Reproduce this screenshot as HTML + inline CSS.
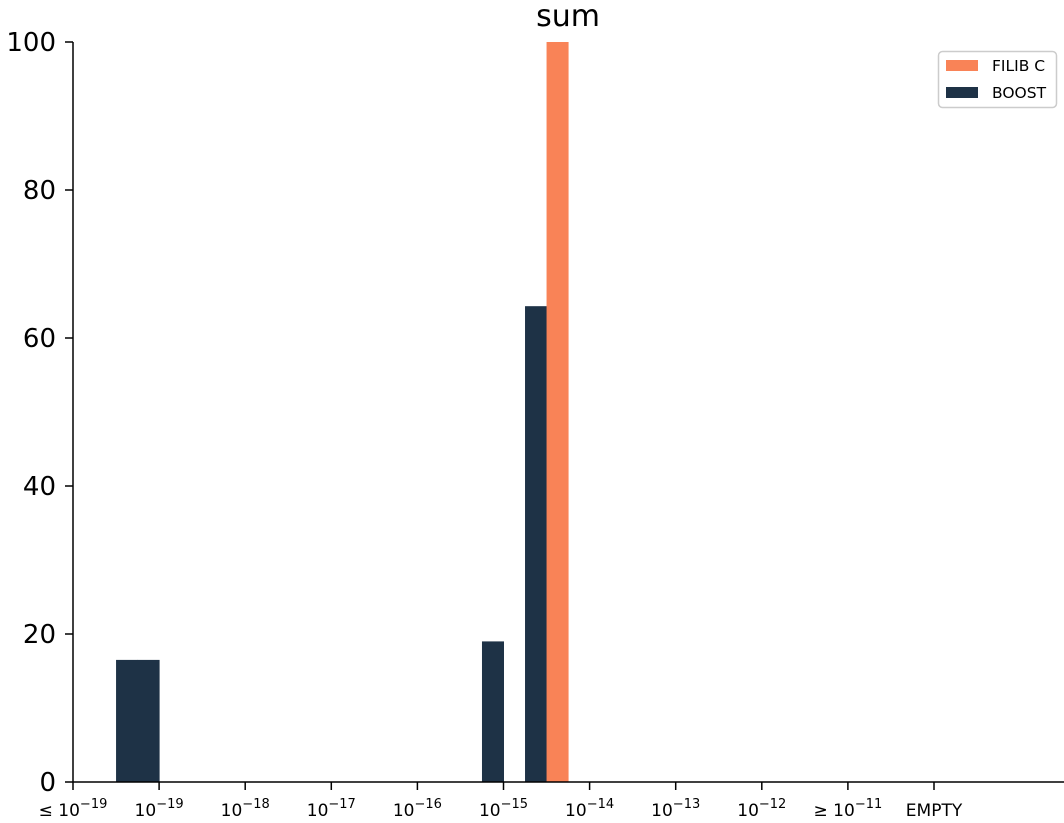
<!DOCTYPE html>
<html><head><meta charset="utf-8"><style>
body{margin:0;background:#fff;}
svg{display:block;font-family:"DejaVu Sans","Liberation Sans",sans-serif;}
</style></head><body>
<svg id="chart" width="1064" height="823">
<text x="568" y="26" font-size="30" text-anchor="middle">sum</text>
<g id="bars"></g>
<g id="axes"></g>
<g>
<rect x="938.5" y="51.5" width="118" height="56" rx="4" fill="#fff" stroke="#ccc" stroke-width="1.5"/>
<rect x="946" y="60" width="32" height="11" fill="#f98357"/>
<text x="992" y="71" font-size="15.5">FILIB C</text>
<rect x="946" y="87" width="32" height="11" fill="#1e3246"/>
<text x="992" y="98" font-size="15.5">BOOST</text>
</g>
</svg>
<script>
const categories=["≤10^-19","10^-19","10^-18","10^-17","10^-16","10^-15","10^-14","10^-13","10^-12","≥10^-11","EMPTY"];
const yTicks=[0,20,40,60,80,100];
const boostPos=[0.5,0.75,4.75,5.25];
const boostVals=[16.5,16.5,19,64.3];
const filibPos=[5.5];
const filibVals=[100];
const NS="http://www.w3.org/2000/svg";
const x0=73,step=86.1,y0=782,yTop=42;
const xs=i=>x0+i*step;
const ys=v=>y0-(v/100)*(y0-yTop);
const bars=document.getElementById('bars'),axes=document.getElementById('axes');
function mk(t,a,p){const e=document.createElementNS(NS,t);for(const k in a)e.setAttribute(k,a[k]);p.appendChild(e);return e;}
function drawSeries(pos,vals,color,name){
 pos.forEach((p,i)=>{
  const r=mk('rect',{x:xs(p),y:ys(vals[i]),width:step*0.25+0.5,height:y0-ys(vals[i]),fill:color},bars);
  
  
 });
}
drawSeries(boostPos,boostVals,'#1e3246','boost');
drawSeries(filibPos,filibVals,'#f98357','filib');
const ya=mk('line',{x1:x0,y1:yTop,x2:x0,y2:y0,stroke:'#000','stroke-width':1.5},axes);


const xa=mk('line',{x1:x0,y1:y0,x2:1064,y2:y0,stroke:'#000','stroke-width':1.5},axes);


yTicks.forEach(v=>{
 mk('line',{x1:x0-8,y1:ys(v),x2:x0,y2:ys(v),stroke:'#000','stroke-width':1.5},axes);
 const t=mk('text',{x:x0-17,y:ys(v)+9,'font-size':26,'text-anchor':'end'},axes);
 t.textContent=v;
 
 
});
categories.forEach((c,i)=>{
 const x=xs(i);
 mk('line',{x1:x,y1:y0,x2:x,y2:y0+8,stroke:'#000','stroke-width':1.5},axes);
 const t=mk('text',{x:x,y:816,'font-size':17,'text-anchor':'middle'},axes);
 
 
 if(c==="EMPTY"){t.textContent=c;return;}
 const m=c.match(/^(\D*)10\^(.*)$/);
 const a=document.createElementNS(NS,'tspan');a.textContent=m[1]+(m[1]?' ':'')+'10';t.appendChild(a);
 const b=document.createElementNS(NS,'tspan');b.setAttribute('dy','-8');b.setAttribute('font-size','13');b.textContent=m[2].replace('-','−');t.appendChild(b);
});
</script>
</body></html>
